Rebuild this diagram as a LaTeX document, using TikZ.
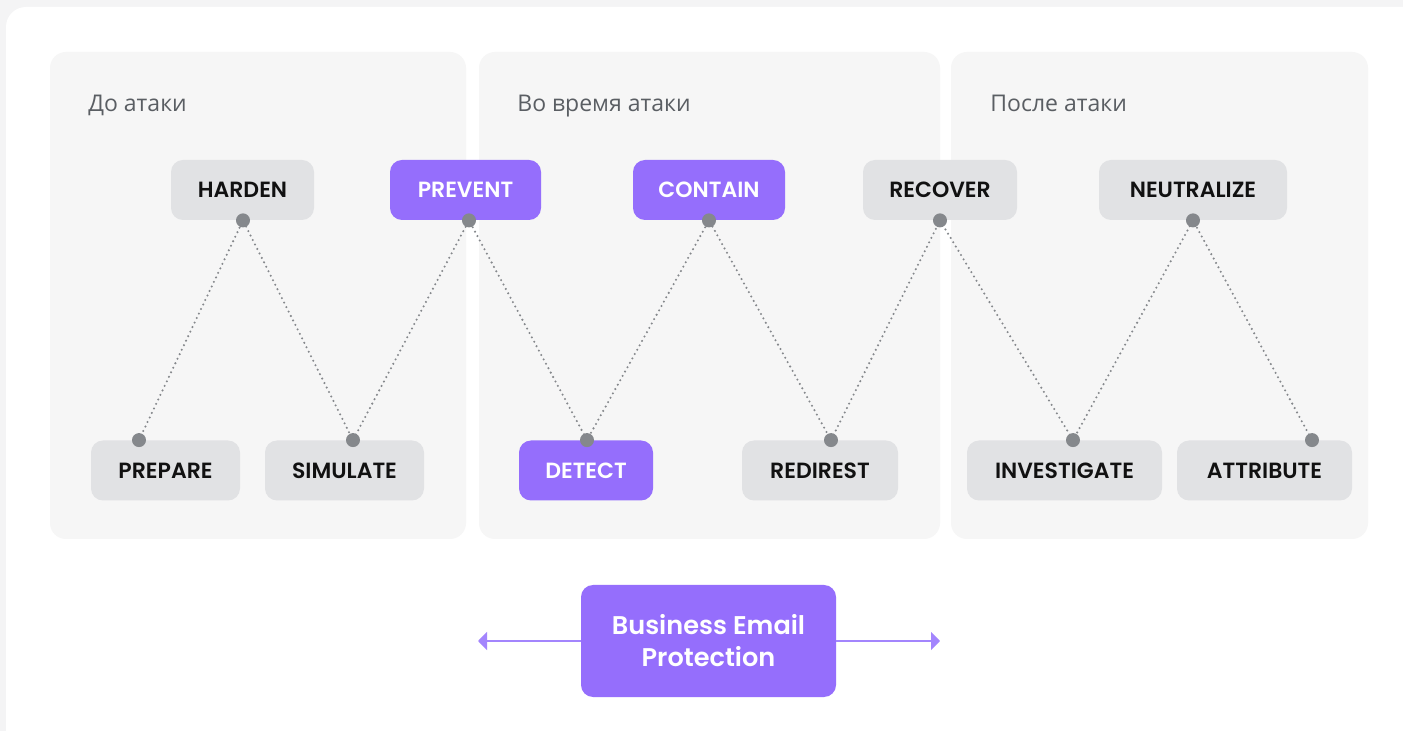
\documentclass[tikz,border=0pt]{standalone}
\usepackage{fontspec}
\setmainfont{Poppins}[UprightFont=* Medium,BoldFont=* SemiBold]
\newfontfamily\titlefont{Open Sans}
\usepackage{tikz}
\usetikzlibrary{arrows.meta}
\definecolor{bgGray}{HTML}{F4F4F5}
\definecolor{panelGray}{HTML}{F6F6F6}
\definecolor{boxGray}{HTML}{E1E2E4}
\definecolor{boxPurple}{HTML}{956EFC}
\definecolor{arrowPurple}{HTML}{A385FD}
\definecolor{dotGray}{HTML}{85888C}
\definecolor{titleGray}{HTML}{5A5E63}
\definecolor{labelBlack}{HTML}{111111}
\tikzset{
  panel/.style={fill=panelGray,rounded corners=8pt},
  stepbox/.style={fill=boxGray,rounded corners=6pt,minimum height=30pt,text=labelBlack,font=\bfseries\fontsize{11}{13}\selectfont},
  stepboxP/.style={stepbox,fill=boxPurple,text=white},
  phasetitle/.style={anchor=base west,inner sep=0pt,text=titleGray,font=\titlefont\fontsize{11.5}{13}\selectfont},
  link/.style={dotGray,line width=1.15pt,line cap=round,dash pattern=on 0pt off 2.5pt},
  pin/.style={fill=dotGray}
}
\begin{document}
\begin{tikzpicture}[x=0.5pt,y=0.5pt,yscale=-1,xscale=1]
\useasboundingbox (0,0) rectangle (1403,731);
%Background
\fill[bgGray] (0,0) rectangle (1403,731);
\fill[white,rounded corners=10pt] (6,7) rectangle (1425,760);
%Shape: Panels
\fill[panel] (50,52) rectangle (466,539);
\fill[panel] (479,52) rectangle (940,539);
\fill[panel] (951,52) rectangle (1368,539);
% Text Node
\node[phasetitle] (before) at (88,112) {До атаки};
\node[phasetitle] (during) at (517,112) {Во время атаки};
\node[phasetitle] (after) at (990,112) {После атаки};
%Top row
\node[stepbox,minimum width=71.5pt] (harden) at (242.5,190) {HARDEN};
\node[stepboxP,minimum width=75.5pt] (prevent) at (465.5,190) {PREVENT};
\node[stepboxP,minimum width=76pt] (contain) at (709,190) {CONTAIN};
\node[stepbox,minimum width=77pt] (recover) at (940,190) {RECOVER};
\node[stepbox,minimum width=94pt] (neutralize) at (1193,190) {NEUTRALIZE};
%Bottom row
\node[stepbox,minimum width=74.5pt] (prepare) at (165.5,470.5) {PREPARE};
\node[stepbox,minimum width=79.5pt] (simulate) at (344.5,470.5) {SIMULATE};
\node[stepboxP,minimum width=67pt] (detect) at (586,470.5) {DETECT};
\node[stepbox,minimum width=78pt] (redirest) at (820,470.5) {REDIREST};
\node[stepbox,minimum width=97.5pt] (investigate) at (1064.5,470.5) {INVESTIGATE};
\node[stepbox,minimum width=87.5pt] (attribute) at (1264.5,470.5) {ATTRIBUTE};
%Pins
\coordinate (pPrepare) at ([xshift=-13.25pt]prepare.north);
\coordinate (pHarden) at ([xshift=0.25pt]harden.south);
\coordinate (pSimulate) at ([xshift=4.25pt]simulate.north);
\coordinate (pPrevent) at ([xshift=1.75pt]prevent.south);
\coordinate (pDetect) at ([xshift=0.5pt]detect.north);
\coordinate (pContain) at (contain.south);
\coordinate (pRedirest) at ([xshift=5.5pt]redirest.north);
\coordinate (pRecover) at (recover.south);
\coordinate (pInvestigate) at ([xshift=4.25pt]investigate.north);
\coordinate (pNeutralize) at (neutralize.south);
\coordinate (pAttribute) at ([xshift=23.75pt]attribute.north);
%Straight Lines
\draw[link] (pPrepare) -- (pHarden) -- (pSimulate) -- (pPrevent) -- (pDetect) -- (pContain) -- (pRedirest) -- (pRecover) -- (pInvestigate) -- (pNeutralize) -- (pAttribute);
\foreach \p in {pPrepare,pHarden,pSimulate,pPrevent,pDetect,pContain,pRedirest,pRecover,pInvestigate,pNeutralize,pAttribute}
  \fill[pin] (\p) circle (3.5pt);
%Business box
\node[fill=boxPurple,rounded corners=6pt,minimum width=127.5pt,minimum height=56pt,text=white,align=center,font=\bfseries\fontsize{12.8}{16}\selectfont] (bep) at (708.5,641) {Business Email\\Protection};
\coordinate (leftEnd) at (478,641);
\coordinate (rightEnd) at (940,641);
\draw[arrowPurple,line width=1pt,-{Triangle[length=4.5pt,width=9pt]}] (bep.west) -- (leftEnd);
\draw[arrowPurple,line width=1pt,-{Triangle[length=4.5pt,width=9pt]}] (bep.east) -- (rightEnd);
\end{tikzpicture}
\end{document}
